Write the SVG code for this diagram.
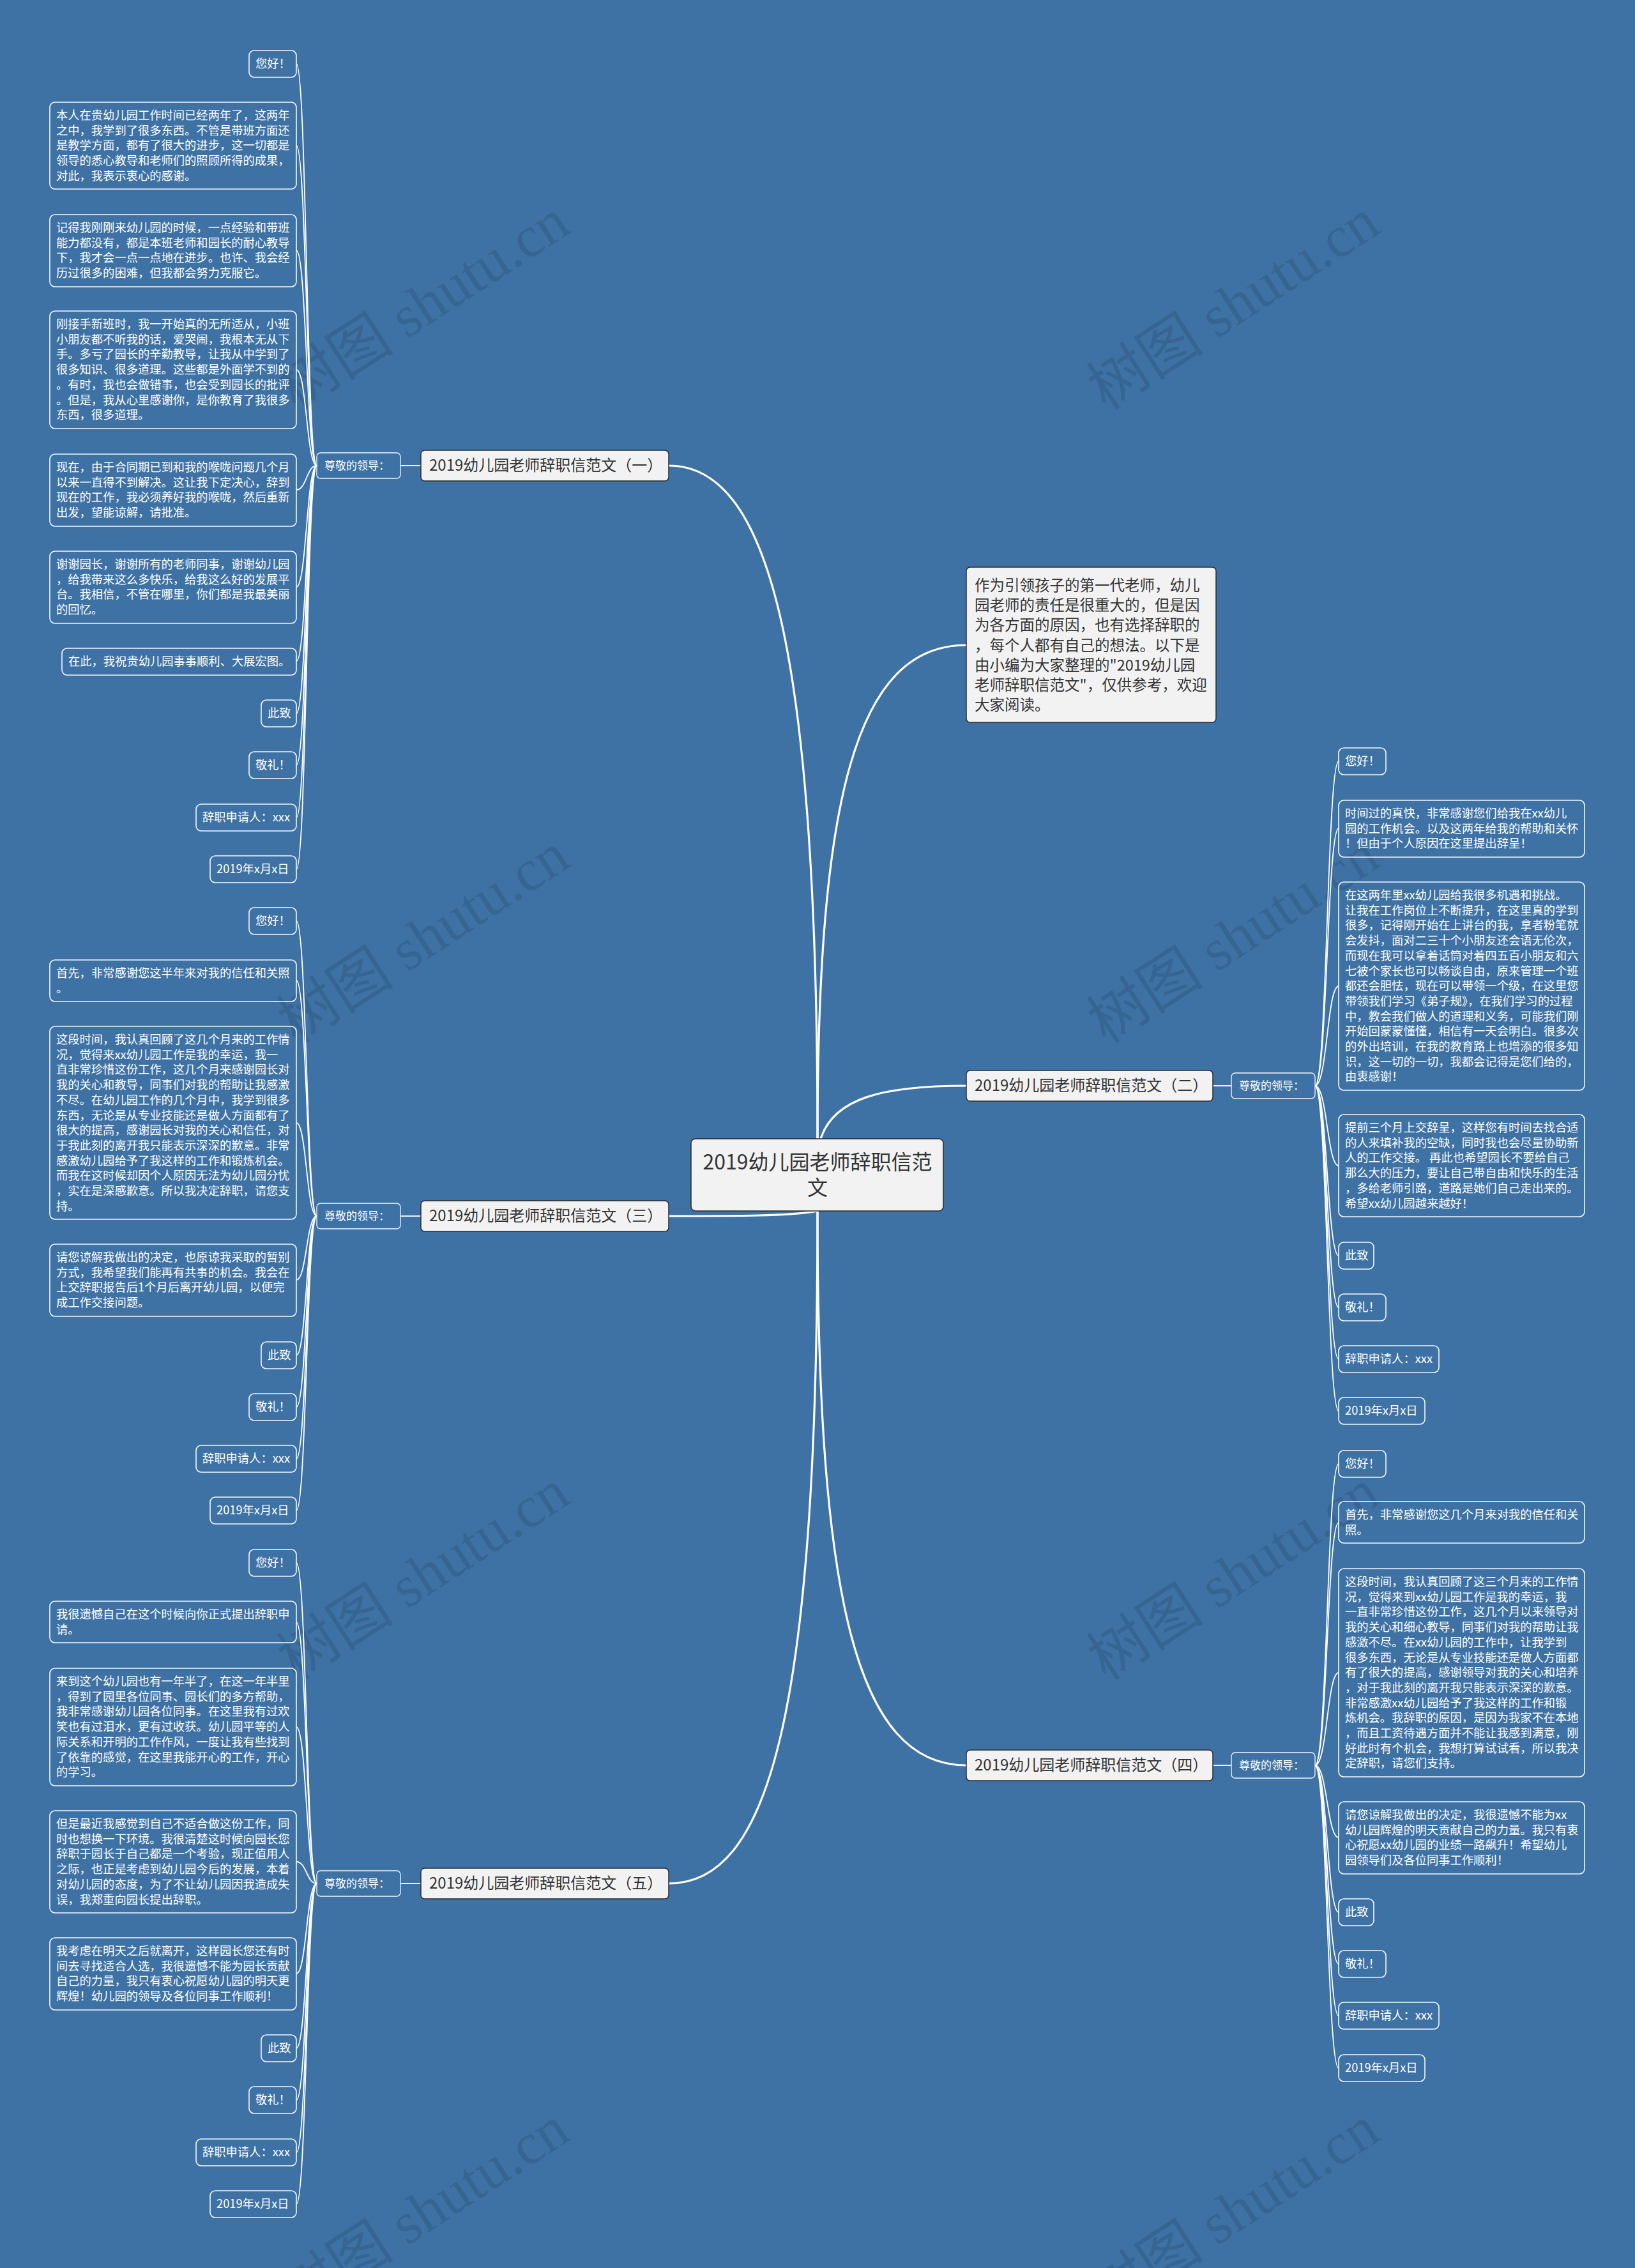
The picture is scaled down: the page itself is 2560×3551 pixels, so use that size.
<svg xmlns="http://www.w3.org/2000/svg" width="2560" height="3551" viewBox="0 0 2560 3551">
<style>
text{font-family:"Noto Sans CJK SC","Liberation Sans",sans-serif}
.leaf rect{fill:none;stroke:#f4f8fc;stroke-width:1.6}
.leaf text{fill:#fff;font-size:18.3px}
.br rect{fill:#f2f2f2;stroke:#2b2b2b;stroke-width:1.5}
.br text{fill:#333;font-size:24px}
.lbl rect{fill:none;stroke:#f4f8fc;stroke-width:1.3}
.lbl text{fill:#fff;font-size:17px}
.main{fill:none;stroke:#fff;stroke-width:3.2;stroke-linecap:round}
.sub{fill:none;stroke:#fff;stroke-width:1.8}
.wm{fill:#000;opacity:0.11;font-family:"Liberation Serif","Noto Sans CJK SC",serif;font-size:92px}
</style>
<rect x="0" y="0" width="2560" height="3551" fill="#3e72a5"/>

<g id="watermarks">
<text class="wm" transform="translate(680,503) rotate(-33)" text-anchor="middle">树图 shutu.cn</text>
<text class="wm" transform="translate(1948,503) rotate(-33)" text-anchor="middle">树图 shutu.cn</text>
<text class="wm" transform="translate(680,1495) rotate(-33)" text-anchor="middle">树图 shutu.cn</text>
<text class="wm" transform="translate(1948,1495) rotate(-33)" text-anchor="middle">树图 shutu.cn</text>
<text class="wm" transform="translate(680,2492) rotate(-33)" text-anchor="middle">树图 shutu.cn</text>
<text class="wm" transform="translate(1948,2492) rotate(-33)" text-anchor="middle">树图 shutu.cn</text>
<text class="wm" transform="translate(680,3489) rotate(-33)" text-anchor="middle">树图 shutu.cn</text>
<text class="wm" transform="translate(1948,3489) rotate(-33)" text-anchor="middle">树图 shutu.cn</text>
</g>

<g id="connectors">
<path class="main" d="M1280,1783 C1280,1000 1200,729 1047,729"/>
<path class="main" d="M1280,1783 C1280,1250 1340,1010 1513,1010"/>
<path class="main" d="M1285,1783 C1305,1720 1380,1700 1513,1700"/>
<path class="main" d="M1280,1896 C1240,1904 1150,1904 1047,1904"/>
<path class="main" d="M1280,1896 C1280,2500 1340,2764 1513,2764"/>
<path class="main" d="M1280,1896 C1280,2700 1200,2949 1047,2949"/>
<path class="sub" d="M659,729 L627,729"/>
<path class="sub" d="M659,1904 L627,1904"/>
<path class="sub" d="M659,2949 L627,2949"/>
<path class="sub" d="M1899,1700 L1928,1700"/>
<path class="sub" d="M1899,2764 L1928,2764"/>
<!-- branch 1 leaves -->
<path class="sub" d="M496,729 C480,729 480,100 464,100"/>
<path class="sub" d="M496,729 C480,729 480,228 464,228"/>
<path class="sub" d="M496,729 C480,729 480,392 464,392"/>
<path class="sub" d="M496,729 C480,729 480,579 464,579"/>
<path class="sub" d="M496,729 C480,729 480,767 464,767"/>
<path class="sub" d="M496,729 C480,729 480,919 464,919"/>
<path class="sub" d="M496,729 C480,729 480,1035 464,1035"/>
<path class="sub" d="M496,729 C480,729 480,1117 464,1117"/>
<path class="sub" d="M496,729 C480,729 480,1198 464,1198"/>
<path class="sub" d="M496,729 C480,729 480,1280 464,1280"/>
<path class="sub" d="M496,729 C480,729 480,1361 464,1361"/>
<!-- branch 3 leaves -->
<path class="sub" d="M496,1904 C480,1904 480,1442 464,1442"/>
<path class="sub" d="M496,1904 C480,1904 480,1535 464,1535"/>
<path class="sub" d="M496,1904 C480,1904 480,1758 464,1758"/>
<path class="sub" d="M496,1904 C480,1904 480,2004 464,2004"/>
<path class="sub" d="M496,1904 C480,1904 480,2122 464,2122"/>
<path class="sub" d="M496,1904 C480,1904 480,2203 464,2203"/>
<path class="sub" d="M496,1904 C480,1904 480,2284 464,2284"/>
<path class="sub" d="M496,1904 C480,1904 480,2365 464,2365"/>
<!-- branch 5 leaves -->
<path class="sub" d="M496,2949 C480,2949 480,2447 464,2447"/>
<path class="sub" d="M496,2949 C480,2949 480,2540 464,2540"/>
<path class="sub" d="M496,2949 C480,2949 480,2704 464,2704"/>
<path class="sub" d="M496,2949 C480,2949 480,2915 464,2915"/>
<path class="sub" d="M496,2949 C480,2949 480,3090 464,3090"/>
<path class="sub" d="M496,2949 C480,2949 480,3207 464,3207"/>
<path class="sub" d="M496,2949 C480,2949 480,3288 464,3288"/>
<path class="sub" d="M496,2949 C480,2949 480,3370 464,3370"/>
<path class="sub" d="M496,2949 C480,2949 480,3451 464,3451"/>
<!-- branch 2 leaves -->
<path class="sub" d="M2059,1700 C2078,1700 2078,1192 2096,1192"/>
<path class="sub" d="M2059,1700 C2078,1700 2078,1297 2096,1297"/>
<path class="sub" d="M2059,1700 C2078,1700 2078,1544 2096,1544"/>
<path class="sub" d="M2059,1700 C2078,1700 2078,1825 2096,1825"/>
<path class="sub" d="M2059,1700 C2078,1700 2078,1966 2096,1966"/>
<path class="sub" d="M2059,1700 C2078,1700 2078,2047 2096,2047"/>
<path class="sub" d="M2059,1700 C2078,1700 2078,2128 2096,2128"/>
<path class="sub" d="M2059,1700 C2078,1700 2078,2209 2096,2209"/>
<!-- branch 4 leaves -->
<path class="sub" d="M2059,2764 C2078,2764 2078,2292 2096,2292"/>
<path class="sub" d="M2059,2764 C2078,2764 2078,2384 2096,2384"/>
<path class="sub" d="M2059,2764 C2078,2764 2078,2619 2096,2619"/>
<path class="sub" d="M2059,2764 C2078,2764 2078,2877 2096,2877"/>
<path class="sub" d="M2059,2764 C2078,2764 2078,2994 2096,2994"/>
<path class="sub" d="M2059,2764 C2078,2764 2078,3075 2096,3075"/>
<path class="sub" d="M2059,2764 C2078,2764 2078,3156 2096,3156"/>
<path class="sub" d="M2059,2764 C2078,2764 2078,3238 2096,3238"/>
</g>

<g id="center" class="br">
<rect x="1082" y="1783" width="395" height="113" rx="7"/>
<text x="1280" y="1831" text-anchor="middle" style="font-size:32px">2019幼儿园老师辞职信范</text>
<text x="1280" y="1871" text-anchor="middle" style="font-size:32px">文</text>
</g>

<g id="intro" class="br">
<rect x="1513" y="888" width="391" height="243" rx="6"/>
<text style="font-size:23.5px">
<tspan x="1526" y="925">作为引领孩子的第一代老师，幼儿</tspan>
<tspan x="1526" y="956.2">园老师的责任是很重大的，但是因</tspan>
<tspan x="1526" y="987.4">为各方面的原因，也有选择辞职的</tspan>
<tspan x="1526" y="1018.6">，每个人都有自己的想法。以下是</tspan>
<tspan x="1526" y="1049.8">由小编为大家整理的"2019幼儿园</tspan>
<tspan x="1526" y="1081">老师辞职信范文"，仅供参考，欢迎</tspan>
<tspan x="1526" y="1112.2">大家阅读。</tspan>
</text>
</g>

<g id="branch1" class="br"><rect x="659" y="705" width="388" height="48" rx="6"/><text x="672" y="737">2019幼儿园老师辞职信范文（一）</text></g>
<g id="branch2" class="br"><rect x="1513" y="1676" width="386" height="48" rx="6"/><text x="1526" y="1708">2019幼儿园老师辞职信范文（二）</text></g>
<g id="branch3" class="br"><rect x="659" y="1880" width="388" height="48" rx="6"/><text x="672" y="1912">2019幼儿园老师辞职信范文（三）</text></g>
<g id="branch4" class="br"><rect x="1513" y="2740" width="386" height="48" rx="6"/><text x="1526" y="2772">2019幼儿园老师辞职信范文（四）</text></g>
<g id="branch5" class="br"><rect x="659" y="2925" width="388" height="48" rx="6"/><text x="672" y="2957">2019幼儿园老师辞职信范文（五）</text></g>

<g id="label1" class="lbl"><rect x="496" y="709" width="131" height="40" rx="6"/><text x="508" y="735">尊敬的领导：</text></g>
<g id="label3" class="lbl"><rect x="496" y="1884" width="131" height="40" rx="6"/><text x="508" y="1910">尊敬的领导：</text></g>
<g id="label5" class="lbl"><rect x="496" y="2929" width="131" height="40" rx="6"/><text x="508" y="2955">尊敬的领导：</text></g>
<g id="label2" class="lbl"><rect x="1928" y="1680" width="131" height="40" rx="6"/><text x="1940" y="1706">尊敬的领导：</text></g>
<g id="label4" class="lbl"><rect x="1928" y="2744" width="131" height="40" rx="6"/><text x="1940" y="2770">尊敬的领导：</text></g>

<!-- Branch 1 leaves -->
<g id="b1-1" class="leaf"><rect x="390" y="79" width="74" height="42" rx="8"/><text x="400" y="106">您好！</text></g>
<g id="b1-2" class="leaf"><rect x="78" y="160" width="386" height="136" rx="8"/><text>
<tspan x="88" y="187">本人在贵幼儿园工作时间已经两年了，这两年</tspan>
<tspan x="88" y="210.7">之中，我学到了很多东西。不管是带班方面还</tspan>
<tspan x="88" y="234.4">是教学方面，都有了很大的进步，这一切都是</tspan>
<tspan x="88" y="258.1">领导的悉心教导和老师们的照顾所得的成果，</tspan>
<tspan x="88" y="281.8">对此，我表示衷心的感谢。</tspan></text></g>
<g id="b1-3" class="leaf"><rect x="78" y="336" width="386" height="113" rx="8"/><text>
<tspan x="88" y="363">记得我刚刚来幼儿园的时候，一点经验和带班</tspan>
<tspan x="88" y="386.7">能力都没有，都是本班老师和园长的耐心教导</tspan>
<tspan x="88" y="410.4">下，我才会一点一点地在进步。也许、我会经</tspan>
<tspan x="88" y="434.1">历过很多的困难，但我都会努力克服它。</tspan></text></g>
<g id="b1-4" class="leaf"><rect x="78" y="487" width="386" height="184" rx="8"/><text>
<tspan x="88" y="514">刚接手新班时，我一开始真的无所适从，小班</tspan>
<tspan x="88" y="537.7">小朋友都不听我的话，爱哭闹，我根本无从下</tspan>
<tspan x="88" y="561.4">手。多亏了园长的辛勤教导，让我从中学到了</tspan>
<tspan x="88" y="585.1">很多知识、很多道理。这些都是外面学不到的</tspan>
<tspan x="88" y="608.8">。有时，我也会做错事，也会受到园长的批评</tspan>
<tspan x="88" y="632.5">。但是，我从心里感谢你，是你教育了我很多</tspan>
<tspan x="88" y="656.2">东西，很多道理。</tspan></text></g>
<g id="b1-5" class="leaf"><rect x="78" y="711" width="386" height="113" rx="8"/><text>
<tspan x="88" y="738">现在，由于合同期已到和我的喉咙问题几个月</tspan>
<tspan x="88" y="761.7">以来一直得不到解决。这让我下定决心，辞到</tspan>
<tspan x="88" y="785.4">现在的工作，我必须养好我的喉咙，然后重新</tspan>
<tspan x="88" y="809.1">出发，望能谅解，请批准。</tspan></text></g>
<g id="b1-6" class="leaf"><rect x="78" y="863" width="386" height="113" rx="8"/><text>
<tspan x="88" y="890">谢谢园长，谢谢所有的老师同事，谢谢幼儿园</tspan>
<tspan x="88" y="913.7">，给我带来这么多快乐，给我这么好的发展平</tspan>
<tspan x="88" y="937.4">台。我相信，不管在哪里，你们都是我最美丽</tspan>
<tspan x="88" y="961.1">的回忆。</tspan></text></g>
<g id="b1-7" class="leaf"><rect x="97" y="1015" width="367" height="42" rx="8"/><text x="107" y="1042">在此，我祝贵幼儿园事事顺利、大展宏图。</text></g>
<g id="b1-8" class="leaf"><rect x="409" y="1096" width="55" height="42" rx="8"/><text x="419" y="1123">此致</text></g>
<g id="b1-9" class="leaf"><rect x="390" y="1177" width="74" height="42" rx="8"/><text x="400" y="1204">敬礼！</text></g>
<g id="b1-10" class="leaf"><rect x="307" y="1259" width="157" height="42" rx="8"/><text x="317" y="1286">辞职申请人：xxx</text></g>
<g id="b1-11" class="leaf"><rect x="329" y="1340" width="135" height="42" rx="8"/><text x="339" y="1367">2019年x月x日</text></g>

<!-- Branch 3 leaves -->
<g id="b3-1" class="leaf"><rect x="390" y="1421" width="74" height="42" rx="8"/><text x="400" y="1448">您好！</text></g>
<g id="b3-2" class="leaf"><rect x="78" y="1503" width="386" height="65" rx="8"/><text>
<tspan x="88" y="1530">首先，非常感谢您这半年来对我的信任和关照</tspan>
<tspan x="88" y="1553.7">。</tspan></text></g>
<g id="b3-3" class="leaf"><rect x="78" y="1607" width="386" height="302" rx="8"/><text>
<tspan x="88" y="1634">这段时间，我认真回顾了这几个月来的工作情</tspan>
<tspan x="88" y="1657.7">况，觉得来xx幼儿园工作是我的幸运，我一</tspan>
<tspan x="88" y="1681.4">直非常珍惜这份工作，这几个月来感谢园长对</tspan>
<tspan x="88" y="1705.1">我的关心和教导，同事们对我的帮助让我感激</tspan>
<tspan x="88" y="1728.8">不尽。在幼儿园工作的几个月中，我学到很多</tspan>
<tspan x="88" y="1752.5">东西，无论是从专业技能还是做人方面都有了</tspan>
<tspan x="88" y="1776.2">很大的提高，感谢园长对我的关心和信任，对</tspan>
<tspan x="88" y="1799.9">于我此刻的离开我只能表示深深的歉意。非常</tspan>
<tspan x="88" y="1823.6">感激幼儿园给予了我这样的工作和锻炼机会。</tspan>
<tspan x="88" y="1847.3">而我在这时候却因个人原因无法为幼儿园分忧</tspan>
<tspan x="88" y="1871">，实在是深感歉意。所以我决定辞职，请您支</tspan>
<tspan x="88" y="1894.7">持。</tspan></text></g>
<g id="b3-4" class="leaf"><rect x="78" y="1948" width="386" height="113" rx="8"/><text>
<tspan x="88" y="1975">请您谅解我做出的决定，也原谅我采取的暂别</tspan>
<tspan x="88" y="1998.7">方式，我希望我们能再有共事的机会。我会在</tspan>
<tspan x="88" y="2022.4">上交辞职报告后1个月后离开幼儿园，以便完</tspan>
<tspan x="88" y="2046.1">成工作交接问题。</tspan></text></g>
<g id="b3-5" class="leaf"><rect x="409" y="2101" width="55" height="42" rx="8"/><text x="419" y="2128">此致</text></g>
<g id="b3-6" class="leaf"><rect x="390" y="2182" width="74" height="42" rx="8"/><text x="400" y="2209">敬礼！</text></g>
<g id="b3-7" class="leaf"><rect x="307" y="2263" width="157" height="42" rx="8"/><text x="317" y="2290">辞职申请人：xxx</text></g>
<g id="b3-8" class="leaf"><rect x="329" y="2344" width="135" height="42" rx="8"/><text x="339" y="2371">2019年x月x日</text></g>

<!-- Branch 5 leaves -->
<g id="b5-1" class="leaf"><rect x="390" y="2426" width="74" height="42" rx="8"/><text x="400" y="2453">您好！</text></g>
<g id="b5-2" class="leaf"><rect x="78" y="2507" width="386" height="65" rx="8"/><text>
<tspan x="88" y="2534">我很遗憾自己在这个时候向你正式提出辞职申</tspan>
<tspan x="88" y="2557.7">请。</tspan></text></g>
<g id="b5-3" class="leaf"><rect x="78" y="2612" width="386" height="184" rx="8"/><text>
<tspan x="88" y="2639">来到这个幼儿园也有一年半了，在这一年半里</tspan>
<tspan x="88" y="2662.7">，得到了园里各位同事、园长们的多方帮助，</tspan>
<tspan x="88" y="2686.4">我非常感谢幼儿园各位同事。在这里我有过欢</tspan>
<tspan x="88" y="2710.1">笑也有过泪水，更有过收获。幼儿园平等的人</tspan>
<tspan x="88" y="2733.8">际关系和开明的工作作风，一度让我有些找到</tspan>
<tspan x="88" y="2757.5">了依靠的感觉，在这里我能开心的工作，开心</tspan>
<tspan x="88" y="2781.2">的学习。</tspan></text></g>
<g id="b5-4" class="leaf"><rect x="78" y="2835" width="386" height="160" rx="8"/><text>
<tspan x="88" y="2862">但是最近我感觉到自己不适合做这份工作，同</tspan>
<tspan x="88" y="2885.7">时也想换一下环境。我很清楚这时候向园长您</tspan>
<tspan x="88" y="2909.4">辞职于园长于自己都是一个考验，现正值用人</tspan>
<tspan x="88" y="2933.1">之际，也正是考虑到幼儿园今后的发展，本着</tspan>
<tspan x="88" y="2956.8">对幼儿园的态度，为了不让幼儿园因我造成失</tspan>
<tspan x="88" y="2980.5">误，我郑重向园长提出辞职。</tspan></text></g>
<g id="b5-5" class="leaf"><rect x="78" y="3034" width="386" height="113" rx="8"/><text>
<tspan x="88" y="3061">我考虑在明天之后就离开，这样园长您还有时</tspan>
<tspan x="88" y="3084.7">间去寻找适合人选，我很遗憾不能为园长贡献</tspan>
<tspan x="88" y="3108.4">自己的力量，我只有衷心祝愿幼儿园的明天更</tspan>
<tspan x="88" y="3132.1">辉煌！幼儿园的领导及各位同事工作顺利！</tspan></text></g>
<g id="b5-6" class="leaf"><rect x="409" y="3186" width="55" height="42" rx="8"/><text x="419" y="3213">此致</text></g>
<g id="b5-7" class="leaf"><rect x="390" y="3267" width="74" height="42" rx="8"/><text x="400" y="3294">敬礼！</text></g>
<g id="b5-8" class="leaf"><rect x="307" y="3349" width="157" height="42" rx="8"/><text x="317" y="3376">辞职申请人：xxx</text></g>
<g id="b5-9" class="leaf"><rect x="329" y="3430" width="135" height="42" rx="8"/><text x="339" y="3457">2019年x月x日</text></g>

<!-- Branch 2 leaves -->
<g id="b2-1" class="leaf"><rect x="2096" y="1171" width="74" height="42" rx="8"/><text x="2106" y="1198">您好！</text></g>
<g id="b2-2" class="leaf"><rect x="2096" y="1253" width="385" height="89" rx="8"/><text>
<tspan x="2106" y="1280">时间过的真快，非常感谢您们给我在xx幼儿</tspan>
<tspan x="2106" y="1303.7">园的工作机会。以及这两年给我的帮助和关怀</tspan>
<tspan x="2106" y="1327.4">！但由于个人原因在这里提出辞呈！</tspan></text></g>
<g id="b2-3" class="leaf"><rect x="2096" y="1381" width="385" height="326" rx="8"/><text>
<tspan x="2106" y="1408">在这两年里xx幼儿园给我很多机遇和挑战。</tspan>
<tspan x="2106" y="1431.7">让我在工作岗位上不断提升，在这里真的学到</tspan>
<tspan x="2106" y="1455.4">很多，记得刚开始在上讲台的我，拿者粉笔就</tspan>
<tspan x="2106" y="1479.1">会发抖，面对二三十个小朋友还会语无伦次，</tspan>
<tspan x="2106" y="1502.8">而现在我可以拿着话筒对着四五百小朋友和六</tspan>
<tspan x="2106" y="1526.5">七被个家长也可以畅谈自由，原来管理一个班</tspan>
<tspan x="2106" y="1550.2">都还会胆怯，现在可以带领一个级，在这里您</tspan>
<tspan x="2106" y="1573.9">带领我们学习《弟子规》，在我们学习的过程</tspan>
<tspan x="2106" y="1597.6">中，教会我们做人的道理和义务，可能我们刚</tspan>
<tspan x="2106" y="1621.3">开始回蒙蒙懂懂，相信有一天会明白。很多次</tspan>
<tspan x="2106" y="1645">的外出培训，在我的教育路上也增添的很多知</tspan>
<tspan x="2106" y="1668.7">识，这一切的一切，我都会记得是您们给的，</tspan>
<tspan x="2106" y="1692.4">由衷感谢！</tspan></text></g>
<g id="b2-4" class="leaf"><rect x="2096" y="1745" width="385" height="160" rx="8"/><text>
<tspan x="2106" y="1772">提前三个月上交辞呈，这样您有时间去找合适</tspan>
<tspan x="2106" y="1795.7">的人来填补我的空缺，同时我也会尽量协助新</tspan>
<tspan x="2106" y="1819.4">人的工作交接。 再此也希望园长不要给自己</tspan>
<tspan x="2106" y="1843.1">那么大的压力，要让自己带自由和快乐的生活</tspan>
<tspan x="2106" y="1866.8">，多给老师引路，道路是她们自己走出来的。</tspan>
<tspan x="2106" y="1890.5">希望xx幼儿园越来越好！</tspan></text></g>
<g id="b2-5" class="leaf"><rect x="2096" y="1945" width="55" height="42" rx="8"/><text x="2106" y="1972">此致</text></g>
<g id="b2-6" class="leaf"><rect x="2096" y="2026" width="74" height="42" rx="8"/><text x="2106" y="2053">敬礼！</text></g>
<g id="b2-7" class="leaf"><rect x="2096" y="2107" width="157" height="42" rx="8"/><text x="2106" y="2134">辞职申请人：xxx</text></g>
<g id="b2-8" class="leaf"><rect x="2096" y="2188" width="135" height="42" rx="8"/><text x="2106" y="2215">2019年x月x日</text></g>

<!-- Branch 4 leaves -->
<g id="b4-1" class="leaf"><rect x="2096" y="2271" width="74" height="42" rx="8"/><text x="2106" y="2298">您好！</text></g>
<g id="b4-2" class="leaf"><rect x="2096" y="2351" width="385" height="65" rx="8"/><text>
<tspan x="2106" y="2378">首先，非常感谢您这几个月来对我的信任和关</tspan>
<tspan x="2106" y="2401.7">照。</tspan></text></g>
<g id="b4-3" class="leaf"><rect x="2096" y="2456" width="385" height="326" rx="8"/><text>
<tspan x="2106" y="2483">这段时间，我认真回顾了这三个月来的工作情</tspan>
<tspan x="2106" y="2506.7">况，觉得来到xx幼儿园工作是我的幸运，我</tspan>
<tspan x="2106" y="2530.4">一直非常珍惜这份工作，这几个月以来领导对</tspan>
<tspan x="2106" y="2554.1">我的关心和细心教导，同事们对我的帮助让我</tspan>
<tspan x="2106" y="2577.8">感激不尽。在xx幼儿园的工作中，让我学到</tspan>
<tspan x="2106" y="2601.5">很多东西，无论是从专业技能还是做人方面都</tspan>
<tspan x="2106" y="2625.2">有了很大的提高，感谢领导对我的关心和培养</tspan>
<tspan x="2106" y="2648.9">，对于我此刻的离开我只能表示深深的歉意。</tspan>
<tspan x="2106" y="2672.6">非常感激xx幼儿园给予了我这样的工作和锻</tspan>
<tspan x="2106" y="2696.3">炼机会。我辞职的原因，是因为我家不在本地</tspan>
<tspan x="2106" y="2720">，而且工资待遇方面并不能让我感到满意，刚</tspan>
<tspan x="2106" y="2743.7">好此时有个机会，我想打算试试看，所以我决</tspan>
<tspan x="2106" y="2767.4">定辞职，请您们支持。</tspan></text></g>
<g id="b4-4" class="leaf"><rect x="2096" y="2821" width="385" height="113" rx="8"/><text>
<tspan x="2106" y="2848">请您谅解我做出的决定，我很遗憾不能为xx</tspan>
<tspan x="2106" y="2871.7">幼儿园辉煌的明天贡献自己的力量。我只有衷</tspan>
<tspan x="2106" y="2895.4">心祝愿xx幼儿园的业绩一路飙升！希望幼儿</tspan>
<tspan x="2106" y="2919.1">园领导们及各位同事工作顺利！</tspan></text></g>
<g id="b4-5" class="leaf"><rect x="2096" y="2973" width="55" height="42" rx="8"/><text x="2106" y="3000">此致</text></g>
<g id="b4-6" class="leaf"><rect x="2096" y="3054" width="74" height="42" rx="8"/><text x="2106" y="3081">敬礼！</text></g>
<g id="b4-7" class="leaf"><rect x="2096" y="3135" width="157" height="42" rx="8"/><text x="2106" y="3162">辞职申请人：xxx</text></g>
<g id="b4-8" class="leaf"><rect x="2096" y="3217" width="135" height="42" rx="8"/><text x="2106" y="3244">2019年x月x日</text></g>
</svg>
